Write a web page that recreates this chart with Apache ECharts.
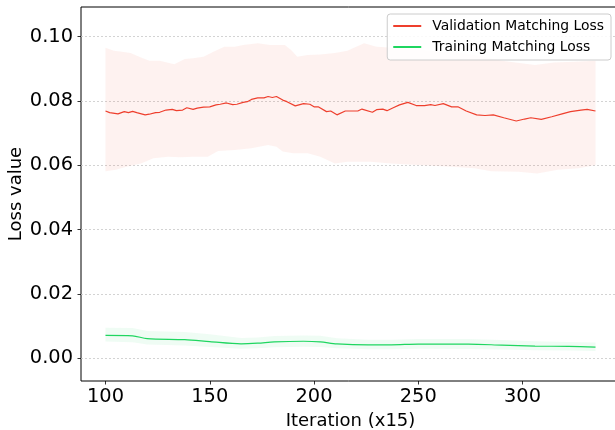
<!DOCTYPE html>
<html>
<head>
<meta charset="utf-8">
<script src="https://cdn.jsdelivr.net/npm/echarts@6/dist/echarts.min.js"></script>
<style>
  html, body { margin: 0; padding: 0; background: #fff; }
  #chart { width: 615px; height: 430px; }
</style>
</head>
<body>
<div id="chart"></div>
<script>
// ---- Data ----
const xTicks = [100, 150, 200, 250, 300];
const yTicks = [0.00, 0.02, 0.04, 0.06, 0.08, 0.10];

// Validation Matching Loss (mean)
const valX = [100,102,106,109,111,113,115,119,121,124,126,129,132,134,137,139,142,144,147,150,153,155,158,161,163,166,168,170,173,176,178,180,182,185,187,191,195,198,200,202,206,208,211,215,218,221,223,228,230,233,235,238,241,245,249,253,256,258,262,266,269,273,278,282,286,291,297,301,304,309,314,319,323,328,331,335];
const valY = [0.0769,0.0764,0.0760,0.0767,0.0764,0.0768,0.0764,0.0757,0.0759,0.0764,0.0765,0.0772,0.0774,0.0770,0.0772,0.0779,0.0774,0.0778,0.0781,0.0782,0.0788,0.0790,0.0794,0.0789,0.0790,0.0796,0.0798,0.0805,0.0810,0.0810,0.0814,0.0811,0.0814,0.0803,0.0798,0.0785,0.0792,0.0790,0.0782,0.0782,0.0767,0.0769,0.0757,0.0769,0.0769,0.0769,0.0775,0.0765,0.0773,0.0775,0.0770,0.0779,0.0788,0.0796,0.0786,0.0786,0.0789,0.0786,0.0792,0.0782,0.0782,0.0769,0.0757,0.0755,0.0757,0.0748,0.0738,0.0744,0.0748,0.0743,0.0751,0.0760,0.0767,0.0772,0.0774,0.0769];

// Validation band (upper / lower edge)
const valUpX = [100,104,107,112,117,121,126,133,138,142,147,152,157,162,166,173,179,186,189,192,197,203,210,216,224,230,240,250,260,270,280,290,306,315,325,335];
const valUpY = [0.0966,0.0956,0.0954,0.0949,0.0935,0.0925,0.0925,0.0914,0.0931,0.0933,0.0938,0.0954,0.0969,0.0969,0.0974,0.0980,0.0974,0.0974,0.0959,0.0938,0.0943,0.0945,0.0949,0.0956,0.0980,0.0969,0.0965,0.0960,0.0955,0.0950,0.0940,0.0925,0.0912,0.0920,0.0922,0.0925];
const valLoX = [100,105,110,117,123,130,136,142,149,154,162,170,178,182,185,190,197,203,210,216,227,237,250,266,277,285,298,307,317,327,335];
const valLoY = [0.0582,0.0586,0.0596,0.0606,0.0622,0.0627,0.0625,0.0627,0.0627,0.0645,0.0648,0.0653,0.0663,0.0658,0.0643,0.0638,0.0638,0.0627,0.0606,0.0611,0.0611,0.0606,0.0601,0.0596,0.0591,0.0582,0.0580,0.0575,0.0586,0.0591,0.0601];

// Training Matching Loss (mean and band)
const trainX  = [100,113,120,138,150,165,173,181,195,203,211,226,237,250,274,290,306,322,335];
const trainY  = [0.00715,0.0070,0.0061,0.0058,0.0052,0.0045,0.0047,0.0051,0.0053,0.0051,0.0045,0.0042,0.0042,0.0044,0.0044,0.0041,0.0038,0.0037,0.0035];
const trainUp = [0.0095,0.0094,0.0085,0.0082,0.0075,0.0063,0.0065,0.0069,0.0071,0.0070,0.0062,0.0058,0.0058,0.0060,0.0060,0.0057,0.0053,0.0051,0.0049];
const trainLo = [0.0052,0.0050,0.0043,0.0040,0.0035,0.0030,0.0031,0.0034,0.0036,0.0035,0.0031,0.0028,0.0028,0.0030,0.0029,0.0027,0.0025,0.0024,0.0023];

const RED = '#ee3f2d';
const GREEN = '#1fd660';
const FONT = 'DejaVu Sans';

function zip(xs, ys) { return xs.map((x, i) => [x, ys[i]]); }

function bandSeries(upX, upY, loX, loY, fill) {
  const data = zip(upX, upY).concat(zip(loX, loY).reverse());
  return {
    type: 'custom',
    silent: true,
    z: 1,
    clip: true,
    encode: { x: 0, y: 1 },
    data: data,
    renderItem: function (params, api) {
      if (params.dataIndex !== 0) return null;
      const pts = data.map(d => api.coord(d));
      return { type: 'polygon', shape: { points: pts }, style: { fill: fill } };
    }
  };
}

const chart = echarts.init(document.getElementById('chart'), null, { renderer: 'canvas' });
chart.setOption({
  animation: false,
  backgroundColor: '#ffffff',
  textStyle: { fontFamily: FONT },
  grid: {
    left: 81, top: 7, width: 539, bottom: 49,
    outerBoundsMode: 'none', containLabel: false,
    show: true, borderColor: '#000', borderWidth: 1, backgroundColor: 'transparent'
  },
  legend: {
    orient: 'vertical',
    right: 4, top: 14,
    itemWidth: 28, itemHeight: 14, itemGap: 7,
    padding: [5, 7, 6, 5],
    backgroundColor: 'rgba(255,255,255,0.85)',
    borderColor: '#cccccc', borderWidth: 1, borderRadius: 3,
    itemStyle: { opacity: 0 },
    textStyle: { fontFamily: FONT, fontSize: 13.9, color: '#000', padding: [0, 0, 0, 6] },
    data: ['Validation Matching Loss', 'Training Matching Loss']
  },
  xAxis: {
    type: 'value',
    min: 88.25, max: 346.75,
    name: 'Iteration (x15)',
    nameLocation: 'middle',
    nameGap: 31,
    nameMoveOverlap: false,
    nameTextStyle: { fontFamily: FONT, fontSize: 18, color: '#000' },
    axisLine: { show: false, onZero: false },
    axisTick: { show: true, inside: false, length: 3.5, lineStyle: { color: '#000', width: 0.8 }, customValues: xTicks },
    axisLabel: { fontFamily: FONT, fontSize: 19.4, color: '#000', margin: 6, customValues: xTicks, showMinLabel: true, showMaxLabel: true },
    splitLine: { show: false }
  },
  yAxis: {
    type: 'value',
    min: -0.00706, max: 0.10924,
    name: 'Loss value',
    nameLocation: 'middle',
    nameGap: 56,
    nameMoveOverlap: false,
    nameTextStyle: { fontFamily: FONT, fontSize: 18, color: '#000' },
    axisLine: { show: false, onZero: false },
    axisTick: { show: true, inside: false, length: 3.5, lineStyle: { color: '#000', width: 0.8 }, customValues: yTicks },
    axisLabel: { fontFamily: FONT, fontSize: 19.4, color: '#000', margin: 8, customValues: yTicks,
      formatter: v => v.toFixed(2) },
    splitLine: { show: true, lineStyle: { color: '#c8c8c8', type: [2, 2], width: 0.8 } }
  },
  series: [
    bandSeries(valUpX, valUpY, valLoX, valLoY, 'rgba(239,65,48,0.07)'),
    bandSeries(trainX, trainUp, trainX, trainLo, 'rgba(34,214,95,0.07)'),
    {
      name: 'Validation Matching Loss', type: 'line', z: 3,
      data: zip(valX, valY), symbol: 'none', showSymbol: false,
      lineStyle: { color: RED, width: 1.2 }, itemStyle: { color: RED }
    },
    {
      name: 'Training Matching Loss', type: 'line', z: 3,
      data: zip(trainX, trainY), symbol: 'none', showSymbol: false, smooth: 0.3,
      lineStyle: { color: GREEN, width: 1.2 }, itemStyle: { color: GREEN }
    }
  ]
});
</script>
</body>
</html>
